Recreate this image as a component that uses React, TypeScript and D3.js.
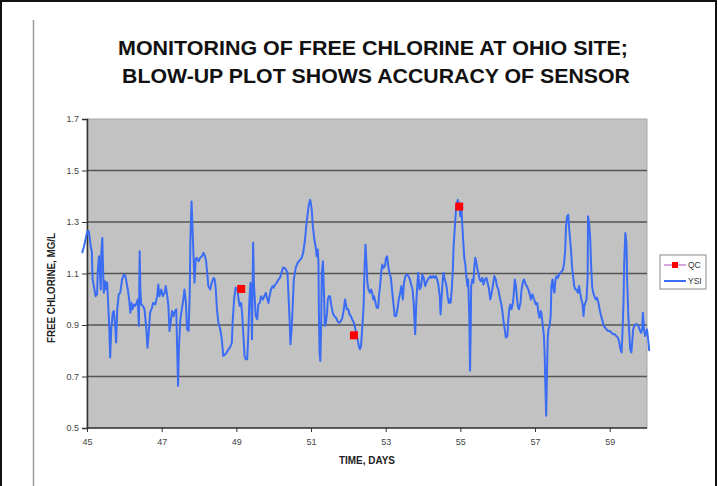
import React, {useEffect, useRef} from 'react';
import * as d3 from 'd3';

// YSI sensor readings, [day, free chlorine mg/L]
const ysiReadings: [number, number][] = [
  [44.87, 1.180], [44.92, 1.206], [45.01, 1.264], [45.05, 1.264], [45.10, 1.206], [45.13, 1.186], [45.15, 1.077], [45.20, 1.038], [45.23, 1.012], [45.27, 1.019],
  [45.29, 1.115], [45.32, 1.167], [45.35, 1.090], [45.37, 1.038], [45.38, 1.174], [45.41, 1.238], [45.44, 1.064], [45.45, 1.025], [45.49, 1.070], [45.52, 1.038],
  [45.54, 1.064], [45.57, 0.974], [45.60, 0.883], [45.62, 0.774], [45.65, 0.883], [45.69, 0.948], [45.72, 0.954], [45.76, 0.883], [45.78, 0.832], [45.81, 0.961],
  [45.85, 1.019], [45.89, 1.025], [45.94, 1.077], [45.99, 1.096], [46.03, 1.090], [46.06, 1.064], [46.10, 1.032], [46.13, 0.999], [46.16, 0.948], [46.19, 0.986],
  [46.22, 0.961], [46.26, 0.980], [46.29, 0.974], [46.33, 0.986], [46.36, 0.999], [46.39, 0.896], [46.41, 1.186], [46.43, 1.038], [46.45, 0.980], [46.50, 0.974],
  [46.54, 0.961], [46.59, 0.883], [46.62, 0.812], [46.66, 0.883], [46.69, 0.948], [46.74, 0.967], [46.77, 0.986], [46.83, 0.980], [46.88, 1.012], [46.91, 1.057],
  [46.94, 1.012], [46.99, 1.038], [47.03, 1.012], [47.08, 1.025], [47.11, 1.051], [47.15, 1.012], [47.18, 0.974], [47.21, 0.877], [47.24, 0.909], [47.28, 0.954],
  [47.32, 0.935], [47.34, 0.948], [47.39, 0.961], [47.42, 0.780], [47.44, 0.664], [47.46, 0.806], [47.50, 0.922], [47.54, 0.961], [47.58, 0.999], [47.61, 1.038],
  [47.65, 0.986], [47.68, 0.883], [47.72, 0.877], [47.75, 1.012], [47.77, 1.232], [47.80, 1.380],
  [47.85, 1.180], [47.88, 1.064], [47.91, 1.154], [47.94, 1.161], [47.99, 1.148], [48.03, 1.161], [48.08, 1.167], [48.12, 1.180], [48.16, 1.167], [48.19, 1.148],
  [48.22, 1.103], [48.25, 1.051], [48.30, 1.038], [48.34, 1.064], [48.39, 1.083], [48.42, 1.077], [48.45, 1.038], [48.48, 0.961], [48.52, 0.909], [48.57, 0.883],
  [48.61, 0.845], [48.65, 0.780], [48.70, 0.786], [48.74, 0.793], [48.79, 0.806], [48.83, 0.812], [48.88, 0.832], [48.90, 0.909], [48.94, 0.999], [48.98, 1.045],
  [49.03, 1.038], [49.06, 0.999], [49.09, 0.974], [49.13, 0.986], [49.16, 0.935], [49.19, 0.857], [49.22, 0.780], [49.25, 0.767], [49.29, 0.767], [49.32, 0.857],
  [49.35, 0.999], [49.38, 1.064], [49.40, 0.999], [49.42, 0.845], [49.45, 1.219], [49.47, 1.064], [49.49, 1.012], [49.52, 0.935], [49.56, 0.922], [49.59, 0.980],
  [49.63, 0.986], [49.66, 1.012], [49.71, 0.999], [49.75, 1.012], [49.79, 1.025], [49.82, 1.006], [49.86, 0.986], [49.89, 1.012], [49.93, 1.038], [49.97, 1.051],
  [50.00, 1.045], [50.04, 1.057], [50.08, 1.064], [50.13, 1.077], [50.17, 1.083], [50.21, 1.103], [50.25, 1.122], [50.29, 1.122], [50.33, 1.115], [50.37, 1.103],
  [50.39, 1.038], [50.43, 0.909], [50.45, 0.825], [50.48, 0.883], [50.51, 0.974], [50.54, 1.077], [50.59, 1.122], [50.64, 1.141], [50.68, 1.148], [50.71, 1.154],
  [50.75, 1.161], [50.79, 1.180], [50.84, 1.232], [50.88, 1.296],
  [50.94, 1.367], [50.98, 1.386], [51.02, 1.348], [51.05, 1.283], [51.09, 1.232], [51.13, 1.199], [51.15, 1.167], [51.18, 1.193], [51.20, 1.141], [51.21, 0.961],
  [51.23, 0.793], [51.25, 0.761], [51.27, 0.883], [51.29, 1.103], [51.32, 1.148], [51.35, 1.012], [51.37, 0.896], [51.40, 0.909], [51.43, 0.948], [51.45, 0.999],
  [51.48, 1.012], [51.51, 1.012], [51.54, 0.980], [51.58, 0.948], [51.62, 0.935], [51.67, 0.928], [51.71, 0.915], [51.75, 0.909], [51.80, 0.915], [51.84, 0.928],
  [51.88, 0.961], [51.91, 0.999], [51.93, 0.986], [51.96, 0.961], [52.00, 0.961], [52.03, 0.941], [52.07, 0.935], [52.10, 0.922], [52.15, 0.909], [52.19, 0.883],
  [52.24, 0.851], [52.28, 0.819], [52.31, 0.806], [52.34, 0.819], [52.37, 0.883], [52.41, 0.974], [52.43, 1.103], [52.46, 1.212], [52.49, 1.128], [52.51, 1.064],
  [52.54, 1.038], [52.58, 1.025], [52.61, 1.038], [52.64, 1.025], [52.67, 0.999], [52.69, 1.012], [52.73, 0.986], [52.76, 0.967], [52.80, 0.967], [52.82, 1.012],
  [52.85, 1.051], [52.88, 1.103], [52.91, 1.135], [52.94, 1.122], [52.98, 1.128], [53.01, 1.161], [53.04, 1.167], [53.07, 1.128], [53.10, 1.103], [53.14, 1.083],
  [53.17, 1.038], [53.21, 0.980], [53.24, 0.935], [53.28, 0.935], [53.32, 0.967], [53.35, 0.999], [53.39, 1.025], [53.42, 1.051], [53.46, 0.999], [53.49, 1.064],
  [53.53, 1.090], [53.57, 1.096], [53.61, 1.090], [53.65, 1.077], [53.68, 1.057], [53.72, 1.038], [53.75, 0.986], [53.79, 0.864], [53.82, 0.986], [53.84, 1.038],
  [53.87, 1.103],
  [53.91, 1.038], [53.95, 1.051], [53.98, 1.096], [54.02, 1.083], [54.06, 1.051], [54.09, 1.064], [54.13, 1.077], [54.16, 1.083], [54.20, 1.090], [54.23, 1.083],
  [54.27, 1.090], [54.31, 1.083], [54.34, 1.090], [54.38, 1.077], [54.41, 1.057], [54.45, 1.012], [54.47, 0.941], [54.50, 1.012], [54.53, 1.077], [54.55, 1.103],
  [54.58, 1.077], [54.61, 1.064], [54.63, 1.051], [54.66, 1.012], [54.69, 0.986], [54.72, 0.999], [54.74, 0.986], [54.77, 1.038], [54.80, 1.115], [54.82, 1.206],
  [54.86, 1.296], [54.89, 1.361], [54.93, 1.386], [54.97, 1.367], [55.00, 1.322], [55.03, 1.348], [55.05, 1.296], [55.08, 1.219], [55.11, 1.154], [55.13, 1.141],
  [55.16, 1.090], [55.19, 1.051], [55.21, 1.077], [55.24, 0.935], [55.26, 0.722], [55.28, 0.909], [55.29, 1.051], [55.32, 1.077], [55.35, 1.064], [55.37, 1.115],
  [55.40, 1.161], [55.43, 1.141], [55.46, 1.115], [55.48, 1.103], [55.52, 1.077], [55.55, 1.070], [55.59, 1.083], [55.62, 1.057], [55.66, 1.077], [55.70, 1.083],
  [55.73, 1.064], [55.77, 1.038], [55.80, 0.999], [55.84, 1.025], [55.87, 1.051], [55.91, 1.090], [55.95, 1.077], [55.98, 1.051], [56.02, 1.038], [56.05, 1.012],
  [56.09, 0.986], [56.12, 0.961], [56.15, 0.922], [56.19, 0.883], [56.22, 0.851], [56.26, 0.857], [56.28, 0.909], [56.31, 0.961], [56.34, 0.980], [56.37, 0.961],
  [56.41, 0.986], [56.44, 1.038], [56.46, 1.077], [56.49, 1.051], [56.52, 0.999], [56.54, 0.974], [56.57, 0.961], [56.61, 0.986], [56.64, 1.038], [56.68, 1.070],
  [56.71, 1.077], [56.75, 1.057], [56.78, 1.051], [56.82, 1.038], [56.85, 1.025], [56.89, 0.999], [56.93, 1.019],
  [56.99, 0.993], [57.02, 0.980], [57.06, 0.986], [57.09, 0.948], [57.12, 0.928], [57.15, 0.954], [57.17, 0.948], [57.20, 0.909], [57.24, 0.857], [57.26, 0.780],
  [57.28, 0.651], [57.30, 0.548], [57.32, 0.703], [57.34, 0.845], [57.36, 0.883], [57.39, 0.896], [57.42, 0.935], [57.44, 1.051], [57.47, 1.077], [57.50, 1.038],
  [57.52, 1.025], [57.55, 1.077], [57.58, 1.090], [57.61, 1.083], [57.65, 1.096], [57.68, 1.103], [57.72, 1.109], [57.75, 1.115], [57.78, 1.141], [57.81, 1.193],
  [57.83, 1.283], [57.86, 1.322], [57.89, 1.328], [57.91, 1.283], [57.94, 1.232], [57.97, 1.180], [57.99, 1.128], [58.02, 1.090], [58.05, 1.051], [58.08, 1.038],
  [58.11, 1.038], [58.15, 1.025], [58.18, 1.051], [58.21, 1.025], [58.24, 0.999], [58.27, 0.986], [58.30, 0.935], [58.32, 0.974], [58.35, 0.986], [58.38, 0.999],
  [58.41, 1.090], [58.42, 1.322], [58.45, 1.296], [58.48, 1.232], [58.50, 1.141], [58.53, 1.051], [58.56, 1.025], [58.59, 1.012], [58.63, 0.999], [58.66, 1.006],
  [58.70, 0.986], [58.73, 0.961], [58.77, 0.935], [58.81, 0.915], [58.84, 0.896], [58.88, 0.890], [58.91, 0.883], [58.96, 0.877], [59.00, 0.877], [59.05, 0.870],
  [59.09, 0.864], [59.14, 0.864], [59.18, 0.857], [59.22, 0.851], [59.25, 0.838], [59.29, 0.806], [59.32, 0.793], [59.34, 0.857], [59.37, 0.986], [59.39, 1.141],
  [59.42, 1.257], [59.45, 1.219], [59.47, 1.064], [59.50, 0.935], [59.53, 0.857], [59.55, 0.806], [59.58, 0.793], [59.61, 0.845], [59.63, 0.883], [59.66, 0.896],
  [59.70, 0.903], [59.73, 0.903], [59.77, 0.896], [59.80, 0.883], [59.84, 0.870], [59.87, 0.883], [59.89, 0.948], [59.92, 0.883], [59.95, 0.857], [59.97, 0.870],
  [60.00, 0.883], [60.04, 0.832], [60.06, 0.799],
];

// grab samples (QC)
const qcDays = [49.13, 52.15, 54.97];
const qcValues = [1.04, 0.86, 1.36];

const xTicks = [45, 47, 49, 51, 53, 55, 57, 59];
const yTicks = [0.5, 0.7, 0.9, 1.1, 1.3, 1.5, 1.7];

const titleLines = ['MONITORING OF FREE CHLORINE AT OHIO SITE;', 'BLOW-UP PLOT SHOWS ACCURACY OF SENSOR'];
const seriesNames = ['QC', 'YSI'];

const W = 718;
const H = 486;
const FONT = '"Liberation Sans", Arial, sans-serif';

const App = () => {
  const ref: any = useRef();

  useEffect(() => {
    document.body.style.margin = '0';
    const svg = d3.select(ref.current);
    svg.selectAll('*').remove();

    const plot = {left: 87, right: 647, top: 119, bottom: 428};

    const x = d3.scaleLinear().domain([45, 60]).range([plot.left, plot.right]);
    const y = d3.scaleLinear().domain([0.5, 1.7]).range([plot.bottom, plot.top]);

    svg.append('rect').attr('width', W).attr('height', H).attr('fill', '#fff');

    // page frame and margin rule
    svg.append('rect')
      .attr('x', 1).attr('y', 1).attr('width', W - 3).attr('height', H + 10)
      .attr('fill', 'none').attr('stroke', '#111').attr('stroke-width', 2);
    svg.append('line')
      .attr('x1', 33.5).attr('x2', 33.5).attr('y1', 20).attr('y2', H)
      .attr('stroke', '#9a9a9a').attr('stroke-width', 1.5);

    // title
    const titleSpans = [[118, 628], [122, 630]];
    titleLines.forEach((t, i) => {
      svg.append('text')
        .attr('x', titleSpans[i][0]).attr('y', 55 + i * 28)
        .attr('textLength', titleSpans[i][1] - titleSpans[i][0])
        .attr('lengthAdjust', 'spacingAndGlyphs')
        .attr('font-family', FONT).attr('font-weight', 'bold').attr('font-size', 20)
        .attr('fill', '#111')
        .text(t);
    });

    // plot area
    svg.append('rect')
      .attr('x', plot.left).attr('y', plot.top)
      .attr('width', plot.right - plot.left).attr('height', plot.bottom - plot.top)
      .attr('fill', '#c3c2c3').attr('stroke', '#a8a8a8').attr('stroke-width', 1);

    svg.append('g')
      .selectAll('line')
      .data(yTicks.slice(1, -1))
      .join('line')
      .attr('x1', plot.left).attr('x2', plot.right)
      .attr('y1', d => y(d)).attr('y2', d => y(d))
      .attr('stroke', '#555').attr('stroke-width', 1.5);

    // axes
    const yAxis = svg.append('g')
      .attr('transform', `translate(${plot.left},0)`)
      .call(d3.axisLeft(y).tickValues(yTicks).tickSize(5).tickPadding(3).tickFormat(d3.format('.1f')));
    const xAxis = svg.append('g')
      .attr('transform', `translate(0,${plot.bottom})`)
      .call(d3.axisBottom(x).tickValues(xTicks).tickSize(4).tickPadding(7).tickSizeOuter(0).tickFormat(d3.format('d')));
    [yAxis, xAxis].forEach(g => {
      g.select('.domain').attr('stroke', '#333').attr('stroke-width', 1.5);
      g.selectAll('.tick line').attr('stroke', '#333');
      g.selectAll('text').attr('font-family', FONT).attr('font-size', 9).attr('fill', '#444');
    });
    xAxis.select('.domain').attr('d', `M${plot.left},0H${plot.right}`);

    // axis titles
    svg.append('text')
      .attr('x', 367).attr('y', 464).attr('text-anchor', 'middle')
      .attr('textLength', 56).attr('lengthAdjust', 'spacingAndGlyphs')
      .attr('font-family', FONT).attr('font-weight', 'bold').attr('font-size', 10)
      .attr('fill', '#222').text('TIME, DAYS');
    svg.append('text')
      .attr('transform', 'translate(55,288) rotate(-90)').attr('text-anchor', 'middle')
      .attr('textLength', 110).attr('lengthAdjust', 'spacingAndGlyphs')
      .attr('font-family', FONT).attr('font-weight', 'bold').attr('font-size', 10)
      .attr('fill', '#222').text('FREE CHLORINE, MG/L');

    // YSI series
    const line = d3.line<[number, number]>()
      .x(d => x(d[0]))
      .y(d => y(d[1]));
    svg.append('path')
      .datum(ysiReadings)
      .attr('fill', 'none')
      .attr('stroke', '#3a6cf4')
      .attr('stroke-width', 2)
      .attr('stroke-linejoin', 'round')
      .attr('d', line);

    // QC points
    svg.append('g')
      .selectAll('rect')
      .data(qcDays.map((d, i) => [d, qcValues[i]]))
      .join('rect')
      .attr('x', d => x(d[0]) - 4).attr('y', d => y(d[1]) - 4)
      .attr('width', 8).attr('height', 8)
      .attr('fill', '#ff0000');

    // legend
    const lg = svg.append('g').attr('transform', 'translate(660,255)');
    lg.append('rect').attr('width', 46).attr('height', 34)
      .attr('fill', '#fff').attr('stroke', '#8a8a8a').attr('stroke-width', 1);
    seriesNames.forEach((name, i) => {
      const ly = 10 + i * 16;
      lg.append('line').attr('x1', 4).attr('x2', 26).attr('y1', ly).attr('y2', ly)
        .attr('stroke', i === 0 ? '#b04cc0' : '#3a6cf4').attr('stroke-width', i === 0 ? 1 : 2);
      if (i === 0) {
        lg.append('rect').attr('x', 12).attr('y', ly - 3).attr('width', 6).attr('height', 6).attr('fill', '#ff0000');
      }
      lg.append('text').attr('x', 28).attr('y', ly + 3)
        .attr('font-family', FONT).attr('font-size', 8.5).attr('fill', '#333')
        .text(name);
    });
  }, []);

  return <svg ref={ref} width={W} height={H} style={{display: 'block'}}/>;
};

export default App;
